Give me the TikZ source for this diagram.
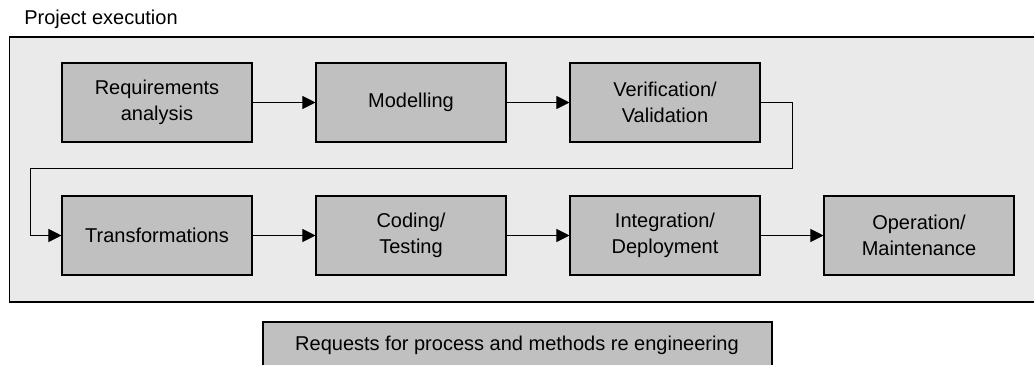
\documentclass[tikz,border=0pt]{standalone}
\usepackage{fontspec}
\setmainfont{Liberation Sans}
\usetikzlibrary{arrows.meta}

\definecolor{frameGray}{RGB}{234,234,234}
\definecolor{boxGray}{RGB}{192,192,192}

\begin{document}
\begin{tikzpicture}[x=0.75pt,y=-0.75pt,
	stage/.style={draw=black, line width=0.8pt, fill=boxGray, minimum width=142.5pt, minimum height=59.25pt, inner sep=0pt, align=center, font=\fontsize{15}{19.5}\selectfont},
	flow/.style={-{Triangle[length=9.75pt,width=9.75pt]}, line width=0.75pt}]
		\newcommand{\rowTop}{102.5}
		\newcommand{\rowLow}{235.5}
		
		\useasboundingbox (0,0) rectangle (1034,364);
		
		\node[anchor=base west, inner sep=0pt, font=\fontsize{15}{18}\selectfont] (title) at (24,24.3) {Project execution};
		\draw[fill=frameGray, line width=1.4pt] (9.5,37) rectangle (1045,302);	% execution frame
		
		% upper row
		\node[stage] (req) at (157,\rowTop) {Requirements\\analysis};
		\node[stage] (model) at (411,\rowTop) {Modelling};
		\node[stage] (verif) at (665,\rowTop) {Verification/\\Validation};
		
		% lower row
		\node[stage] (transf) at (157,\rowLow) {Transformations};
		\node[stage] (coding) at (411,\rowLow) {Coding/\\Testing};
		\node[stage] (integ) at (665,\rowLow) {Integration/\\Deployment};
		\node[stage] (oper) at (919,\rowLow) {Operation/\\Maintenance};
		
		% connectors
		\draw[flow] (req) -- (model);
		\draw[flow] (model) -- (verif);
		\coordinate (loopR) at (792,168.3);
		\coordinate (loopL) at (30.7,168.3);
		\draw[flow] (verif.east) -| (loopR) -- (loopL) |- (transf.west);
		\draw[flow] (transf) -- (coding);
		\draw[flow] (coding) -- (integ);
		\draw[flow] (integ) -- (oper);
		
		% re engineering requests
		\draw[fill=boxGray, line width=1.4pt] (262.7,322.3) rectangle (772,390);
		\node[anchor=base, inner sep=0pt, font=\fontsize{15}{18}\selectfont] (requests) at (517,350.7) {Requests for process and methods re engineering};
\end{tikzpicture}
\end{document}
